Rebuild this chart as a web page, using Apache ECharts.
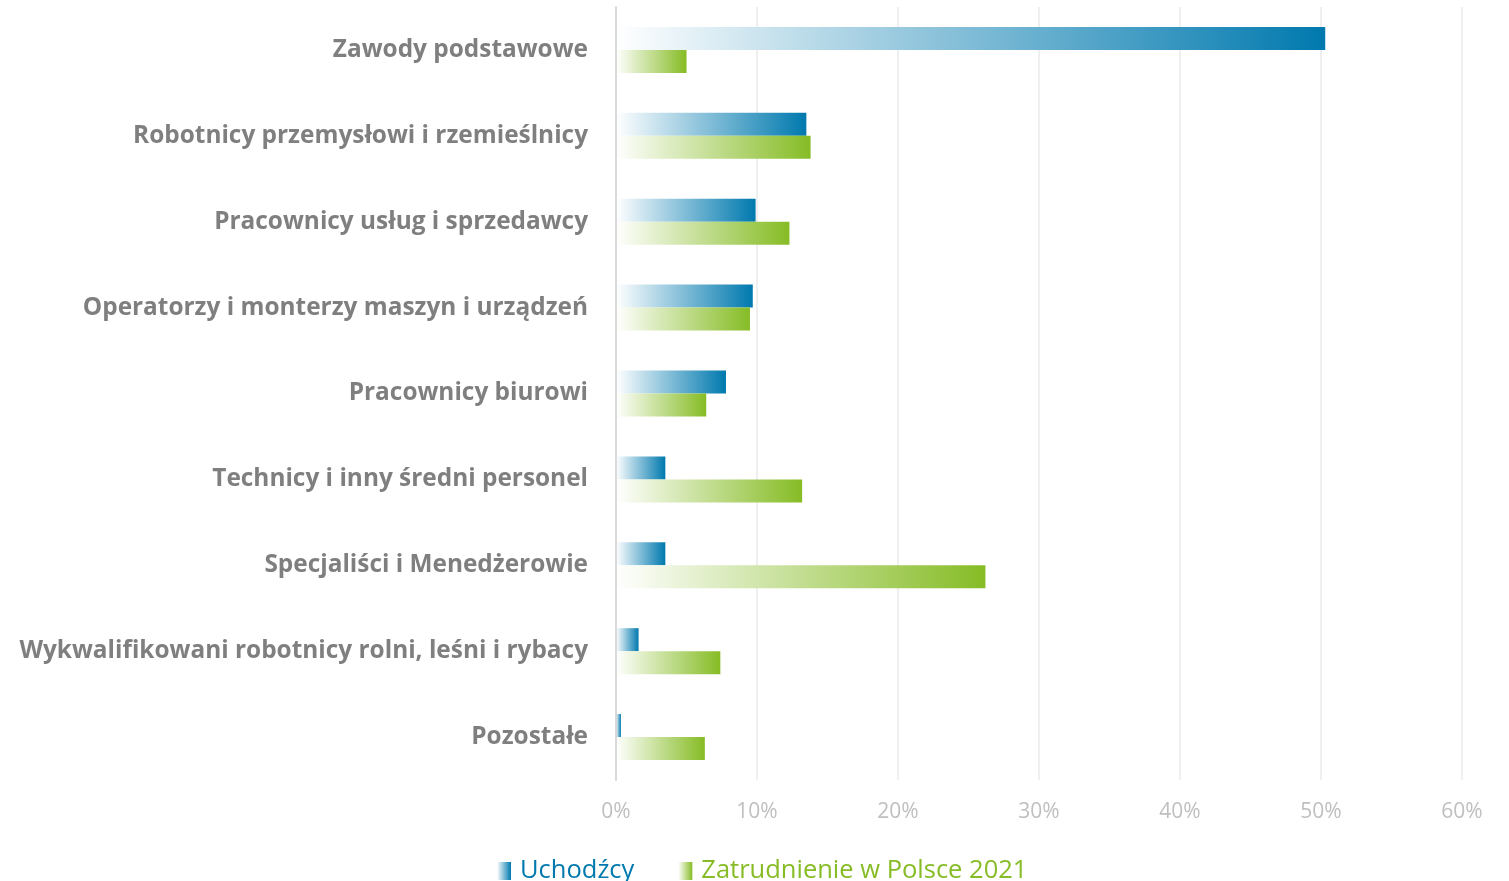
<!DOCTYPE html>
<html>
<head>
<meta charset="utf-8">
<script src="https://cdn.jsdelivr.net/npm/echarts@6/dist/echarts.min.js"></script>
<style>
  html, body { margin: 0; padding: 0; background: #fff; }
  #chart { width: 1509px; height: 881px; }
</style>
</head>
<body>
<div id="chart"></div>
<script>
// occupations, top to bottom
const categories = [
  'Zawody podstawowe',
  'Robotnicy przemysłowi i rzemieślnicy',
  'Pracownicy usług i sprzedawcy',
  'Operatorzy i monterzy maszyn i urządzeń',
  'Pracownicy biurowi',
  'Technicy i inny średni personel',
  'Specjaliści i Menedżerowie',
  'Wykwalifikowani robotnicy rolni, leśni i rybacy',
  'Pozostałe'
]
const refugees = [50.3, 13.5, 9.9, 9.7, 7.8, 3.5, 3.5, 1.6, 0.35]
const poland2021 = [5.0, 13.8, 12.3, 9.5, 6.4, 13.2, 26.2, 7.4, 6.3]
const xTicks = [0, 10, 20, 30, 40, 50, 60]

const BLUE = '#0079ae'
const GREEN = '#86bc25'

function grad(color) {
  return new echarts.graphic.LinearGradient(0, 0, 1, 0, [
    { offset: 0, color: '#ffffff' },
    { offset: 1, color: color }
  ])
}

const chart = echarts.init(document.getElementById('chart'))
chart.setOption({
  animation: false,
  textStyle: { fontFamily: '"Open Sans", sans-serif' },
  grid: { left: 616, right: 47, top: 7, bottom: 101 },
  legend: {
    bottom: -8,
    left: 492,
    itemGap: 44,
    itemWidth: 14,
    itemHeight: 18,
    icon: 'rect',
    textStyle: { fontSize: 25.5, padding: [0, 0, 0, 4] },
    data: [
      { name: 'Uchodźcy', itemStyle: { color: grad(BLUE) }, textStyle: { color: BLUE } },
      { name: 'Zatrudnienie w Polsce 2021', itemStyle: { color: grad(GREEN) }, textStyle: { color: GREEN } }
    ]
  },
  xAxis: {
    type: 'value',
    min: xTicks[0],
    max: xTicks[xTicks.length - 1],
    interval: 10,
    axisLine: { show: false },
    axisTick: { show: false },
    axisLabel: {
      formatter: '{value}%',
      color: '#bfbfbf',
      fontSize: 21,
      margin: 22
    },
    splitLine: { lineStyle: { color: '#efefef', width: 2 } }
  },
  yAxis: {
    type: 'category',
    inverse: true,
    z: 3,
    data: categories,
    axisLine: { show: true, lineStyle: { color: '#d9d9d9', width: 2 } },
    axisTick: { show: false },
    axisLabel: {
      color: '#7f7f7f',
      fontSize: 24.4,
      fontWeight: 'bold',
      margin: 28
    }
  },
  series: [
    {
      name: 'Uchodźcy',
      type: 'bar',
      barWidth: 23,
      barGap: 0,
      itemStyle: { color: grad(BLUE) },
      data: refugees
    },
    {
      name: 'Zatrudnienie w Polsce 2021',
      type: 'bar',
      barWidth: 23,
      barGap: 0,
      itemStyle: { color: grad(GREEN) },
      data: poland2021
    }
  ]
})
</script>
</body>
</html>
